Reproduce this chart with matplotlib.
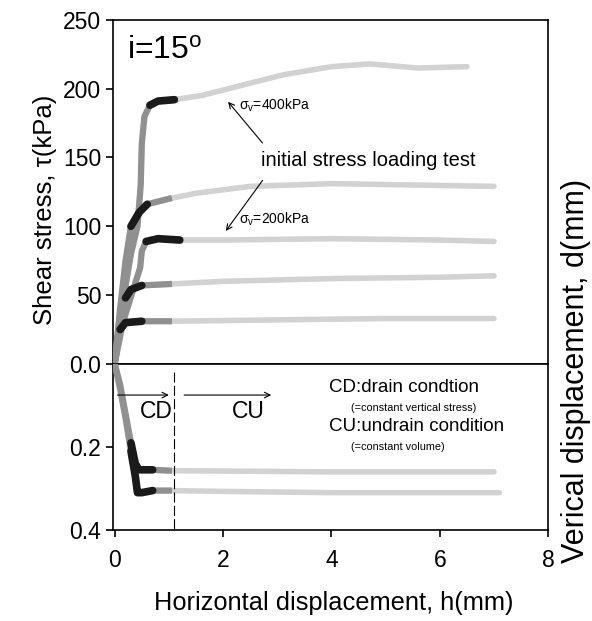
import numpy as np
import matplotlib as mpl
import matplotlib.pyplot as plt

mpl.rcParams['font.family'] = ['Liberation Sans', 'DejaVu Sans']
mpl.rcParams['mathtext.fontset'] = 'custom'
mpl.rcParams['mathtext.rm'] = 'Liberation Sans'
mpl.rcParams['mathtext.it'] = 'Liberation Sans:italic'

# shear stress curves, tau(kPa) vs h(mm)
h_400 = [0, 0.15, 0.3, 0.42, 0.48, 0.5, 0.55, 0.65, 0.8, 1.1, 1.6, 2.5, 3.1, 4.0, 4.7, 5.6, 6.5]
tau_400 = [0, 45, 80, 100, 130, 160, 180, 188, 191, 192, 195, 204, 210, 216, 218, 215, 216]

h_120 = [0, 0.1, 0.2, 0.3, 0.45, 0.6, 1.0, 1.5, 2.5, 4.0, 5.5, 7.0]
tau_120 = [0, 40, 75, 100, 110, 116, 120, 124, 129, 131, 130, 129]

h_200 = [0, 0.15, 0.35, 0.47, 0.5, 0.58, 0.8, 1.2, 2.0, 4.0, 6.0, 7.0]
tau_200 = [0, 30, 55, 70, 82, 89, 91, 90, 90, 91, 90, 89]

h_60 = [0, 0.05, 0.1, 0.2, 0.3, 0.5, 1.0, 2.0, 4.0, 6.0, 7.0]
tau_60 = [0, 20, 35, 48, 54, 57, 58, 60, 62, 63, 64]

h_30 = [0, 0.05, 0.1, 0.2, 0.5, 1.0, 3.0, 5.0, 7.0]
tau_30 = [0, 15, 25, 30, 31, 31, 32, 33, 33]

# vertical displacement curves, d(mm) vs h(mm)
h_da = [0, 0.1, 0.2, 0.3, 0.38, 0.45, 0.7, 1.0, 2.0, 4.0, 6.0, 7.0]
d_a = [0, 0.05, 0.12, 0.19, 0.24, 0.255, 0.255, 0.257, 0.258, 0.26, 0.26, 0.26]

h_db = [0, 0.1, 0.2, 0.3, 0.38, 0.42, 0.5, 0.7, 1.0, 2.0, 4.0, 6.0, 7.1]
d_b = [0, 0.06, 0.13, 0.21, 0.27, 0.31, 0.31, 0.305, 0.305, 0.307, 0.31, 0.31, 0.31]

fig = plt.figure(figsize=(5.92, 6.21), dpi=100)
ax1 = fig.add_axes([0.191, 0.414, 0.735, 0.554])
ax2 = fig.add_axes([0.191, 0.1465, 0.735, 0.2675])


def draw(ax, x, y, mid_end, dark):
    x = np.array(x)
    y = np.array(y)
    ax.plot(x, y, color='#d2d2d2', lw=4, solid_capstyle='round', zorder=2)
    m = x <= mid_end
    ax.plot(x[m], y[m], color='#909090', lw=4.5, zorder=3)
    m = (x >= dark[0]) & (x <= dark[1])
    ax.plot(x[m], y[m], color='#1a1a1a', lw=5.5, solid_capstyle='round', zorder=4)


draw(ax1, h_400, tau_400, 1.1, (0.65, 1.1))
draw(ax1, h_120, tau_120, 1.0, (0.3, 0.6))
draw(ax1, h_200, tau_200, 1.2, (0.58, 1.2))
draw(ax1, h_60, tau_60, 1.0, (0.2, 0.5))
draw(ax1, h_30, tau_30, 1.0, (0.1, 0.5))

draw(ax2, h_da, d_a, 1.0, (0.3, 0.7))
draw(ax2, h_db, d_b, 1.0, (0.3, 0.7))

for ax in (ax1, ax2):
    ax.set_xlim(-0.03, 8)
    for s in ax.spines.values():
        s.set_linewidth(1.2)
    ax.tick_params(labelsize=16.5, direction='out', length=5, width=1.2, right=False, top=False)

ax1.set_ylim(0, 250)
ax1.set_yticks([50, 100, 150, 200, 250])
ax1.set_xticks([])

ax2.set_ylim(0.4, 0.0)
ax2.set_yticks([0.0, 0.2, 0.4])
ax2.set_yticklabels(['0.0', '0.2', '0.4'])
ax2.set_xticks([0, 2, 4, 6, 8])
ax2.tick_params(axis='x', pad=9)

ax1.text(0.22, 222, 'i=15$^{\\mathrm{o}}$', fontsize=23, va='baseline')
arw = dict(arrowstyle='->', lw=0.8, color='black')
ax1.annotate('', xy=(2.06, 192), xytext=(2.76, 159), arrowprops=arw)
ax1.annotate('', xy=(2.02, 95), xytext=(2.76, 135), arrowprops=arw)
ax1.text(2.7, 148, 'initial stress loading test', fontsize=14.5, va='center')
ax1.text(2.3, 188, 'σ$_\\mathrm{v}$=400kPa', fontsize=10, va='center')
ax1.text(2.3, 105, 'σ$_\\mathrm{v}$=200kPa', fontsize=10, va='center')

ax2.plot([1.1, 1.1], [0.02, 0.4], color='black', lw=0.8, ls=(0, (9, 3)))
ax2.annotate('', xy=(1.05, 0.075), xytext=(0, 0.075), arrowprops=arw)
ax2.annotate('', xy=(2.94, 0.075), xytext=(1.23, 0.075), arrowprops=arw)
ax2.text(0.77, 0.115, 'CD', fontsize=16.5, ha='center', va='center')
ax2.text(2.46, 0.115, 'CU', fontsize=16.5, ha='center', va='center')
ax2.text(3.95, 0.058, 'CD:drain condtion', fontsize=13.5, va='center')
ax2.text(4.36, 0.106, '(=constant vertical stress)', fontsize=7.8, va='center')
ax2.text(3.95, 0.150, 'CU:undrain condition', fontsize=13.5, va='center')
ax2.text(4.36, 0.200, '(=constant volume)', fontsize=7.8, va='center')

fig.text(45 / 592, 1 - 210 / 621, 'Shear stress, τ(kPa)', fontsize=18.5,
         rotation=90, ha='center', va='center')
fig.text(576 / 592, 1 - 371 / 621, 'Verical displacement, d(mm)', fontsize=22,
         rotation=90, ha='center', va='center')
fig.text(334 / 592, 1 - 603 / 621, 'Horizontal displacement, h(mm)', fontsize=18.3,
         ha='center', va='center')

plt.savefig('out.png', dpi=100)
